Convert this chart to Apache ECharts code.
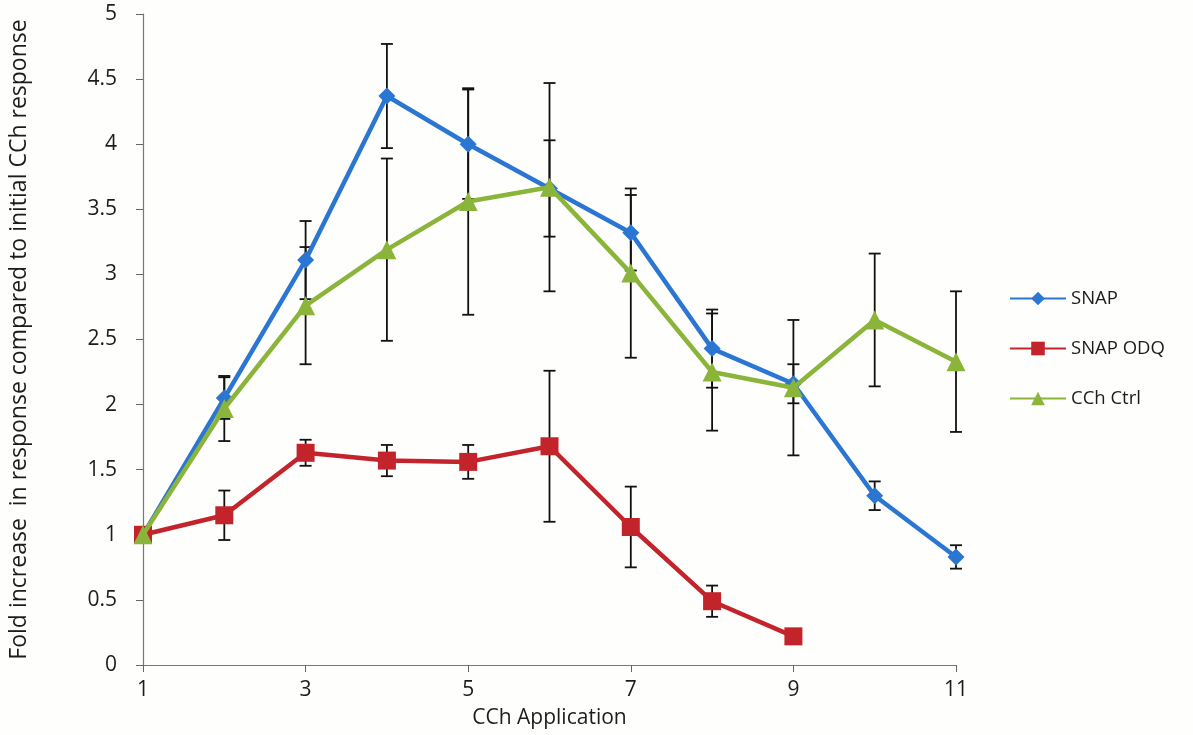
<!DOCTYPE html>
<html>
<head>
<meta charset="utf-8">
<script src="https://cdn.jsdelivr.net/npm/echarts@6/dist/echarts.min.js"></script>
<style>
  html, body { margin: 0; padding: 0; background: #fefefc; }
  #chart { width: 1193px; height: 735px; }
</style>
</head>
<body>
<div id="chart"></div>
<script>
// CCh application number (x) and fold change in response (y)
const applications = [1, 2, 3, 4, 5, 6, 7, 8, 9, 10, 11];
const xTickLabels = [1, 3, 5, 7, 9, 11];

const snapValues = [1.00, 2.05, 3.11, 4.37, 4.00, 3.66, 3.32, 2.43, 2.16, 1.30, 0.83];
const snapErrors = [0, 0.16, 0.30, 0.40, 0.42, 0.37, 0.29, 0.30, 0.15, 0.11, 0.09];

const odqValues = [1.00, 1.15, 1.63, 1.57, 1.56, 1.68, 1.06, 0.49, 0.22];
const odqErrors = [0, 0.19, 0.10, 0.12, 0.13, 0.58, 0.31, 0.12, 0];

const ctrlValues = [1.00, 1.97, 2.76, 3.19, 3.56, 3.67, 3.01, 2.25, 2.13, 2.65, 2.33];
const ctrlErrors = [0, 0.25, 0.45, 0.70, 0.87, 0.80, 0.65, 0.45, 0.52, 0.51, 0.54];

const FONT = '"Open Sans", "Noto Sans", sans-serif';
const TEXT = '#1c1c1c';

function pairs(values) {
  return values.map((v, i) => [applications[i], v]);
}
function errRows(values, errors) {
  return values
    .map((v, i) => [applications[i], v - errors[i], v + errors[i], errors[i]])
    .filter(r => r[3] > 0);
}

// vertical error bar with caps
function renderErrorBar(params, api) {
  const x = api.value(0);
  const lo = api.coord([x, api.value(1)]);
  const hi = api.coord([x, api.value(2)]);
  const half = 6;
  const style = { stroke: '#111', lineWidth: 1.8 };
  return {
    type: 'group',
    children: [
      { type: 'line', shape: { x1: lo[0], y1: lo[1], x2: hi[0], y2: hi[1] }, style },
      { type: 'line', shape: { x1: hi[0] - half, y1: hi[1], x2: hi[0] + half, y2: hi[1] }, style },
      { type: 'line', shape: { x1: lo[0] - half, y1: lo[1], x2: lo[0] + half, y2: lo[1] }, style }
    ]
  };
}

function errorSeries(values, errors) {
  return {
    type: 'custom',
    renderItem: renderErrorBar,
    data: errRows(values, errors),
    encode: { x: 0, y: [1, 2] },
    z: 1,
    silent: true,
    tooltip: { show: false }
  };
}

const BLUE = '#2a76d2';
const RED = '#c3242b';
const GREEN = '#8bb43a';

const chart = echarts.init(document.getElementById('chart'));
chart.setOption({
  backgroundColor: '#fefefc',
  animation: false,
  grid: { left: 142, right: 237, top: 14, bottom: 70 },
  legend: {
    orient: 'vertical',
    left: 1004,
    top: 284,
    itemWidth: 56,
    itemHeight: 17,
    itemGap: 31,
    textStyle: { fontFamily: FONT, fontSize: 18.5, color: TEXT },
    data: ['SNAP', 'SNAP ODQ', 'CCh Ctrl']
  },
  xAxis: {
    type: 'value',
    min: 1,
    max: 11,
    interval: 1,
    name: 'CCh Application',
    nameLocation: 'middle',
    nameGap: 43,
    nameTextStyle: { fontFamily: FONT, fontSize: 21, color: TEXT },
    axisLine: { lineStyle: { color: '#777', width: 1.2 } },
    axisTick: { show: true, length: 7, customValues: xTickLabels, lineStyle: { color: '#666' } },
    axisLabel: { customValues: xTickLabels, margin: 15, fontFamily: FONT, fontSize: 21, color: TEXT },
    splitLine: { show: false }
  },
  yAxis: {
    type: 'value',
    min: 0,
    max: 5,
    interval: 0.5,
    name: 'Fold increase  in response compared to initial CCh response',
    nameLocation: 'middle',
    nameGap: 112,
    nameTextStyle: { fontFamily: FONT, fontSize: 23, color: TEXT },
    axisLine: { show: true, lineStyle: { color: '#777', width: 1.2 } },
    axisTick: { show: true, length: 7, lineStyle: { color: '#666' } },
    axisLabel: { margin: 26, fontFamily: FONT, fontSize: 21, color: TEXT },
    splitLine: { show: false }
  },
  series: [
    errorSeries(snapValues, snapErrors),
    errorSeries(odqValues, odqErrors),
    errorSeries(ctrlValues, ctrlErrors),
    {
      name: 'SNAP',
      type: 'line',
      data: pairs(snapValues),
      symbol: 'diamond',
      symbolSize: 17,
      lineStyle: { color: BLUE, width: 4.5 },
      itemStyle: { color: BLUE },
      z: 3
    },
    {
      name: 'SNAP ODQ',
      type: 'line',
      data: pairs(odqValues),
      symbol: 'rect',
      symbolSize: 18,
      lineStyle: { color: RED, width: 4.5 },
      itemStyle: { color: RED },
      z: 4
    },
    {
      name: 'CCh Ctrl',
      type: 'line',
      data: pairs(ctrlValues),
      symbol: 'triangle',
      symbolSize: 19,
      lineStyle: { color: GREEN, width: 4.5 },
      itemStyle: { color: GREEN },
      z: 5
    }
  ]
});
</script>
</body>
</html>
